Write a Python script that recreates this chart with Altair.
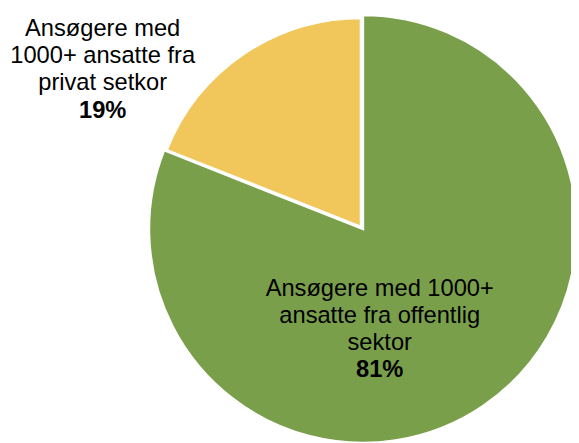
import altair as alt
import pandas as pd
import math

categories = ["Ansøgere med 1000+ ansatte fra offentlig sektor",
              "Ansøgere med 1000+ ansatte fra privat setkor"]
values = [81, 19]
colors = ["#7A9F4B", "#F1C75C"]

top_lines = ["Ansøgere med", "1000+ ansatte fra", "privat setkor"]
top_pct = "19%"
bottom_lines = ["Ansøgere med 1000+", "ansatte fra offentlig", "sektor"]
bottom_pct = "81%"

df = pd.DataFrame({"cat": categories, "value": values, "order": [0, 1]})

FONT = "Liberation Sans"
FS = 24
LH = 27.5

base = alt.Chart(df).transform_window(
    end="sum(value)", sort=[alt.SortField("order")]
).transform_calculate(start="datum.end - datum.value")

theta = alt.Theta("start:Q", scale=alt.Scale(domain=[0, 100], range=[0, 2 * math.pi]))
color = alt.Color("cat:N", scale=alt.Scale(domain=categories, range=colors), legend=None)

green = base.transform_filter("datum.order == 0").mark_arc(
    outerRadius=217, stroke="white", strokeWidth=2.5
).encode(theta=theta, theta2="end:Q", color=color, x=alt.value(360), y=alt.value(221))

yellow = base.transform_filter("datum.order == 1").mark_arc(
    outerRadius=212, stroke="white", strokeWidth=2.5
).encode(theta=theta, theta2="end:Q", color=color, x=alt.value(358), y=alt.value(219))

layers = [green, yellow]

def text_block(lines, pct, cx, y0):
    out = []
    for i, ln in enumerate(lines + [pct]):
        bold = i == len(lines)
        out.append(
            alt.Chart(df).transform_filter("datum.order == 0").mark_text(
                font=FONT, fontSize=FS, fontWeight="bold" if bold else "normal",
                color="black", align="center", baseline="alphabetic"
            ).encode(x=alt.value(cx), y=alt.value(y0 + i * LH), text=alt.value(ln))
        )
    return out

layers += text_block(top_lines, top_pct, 96, 25.5)
layers += text_block(bottom_lines, bottom_pct, 377, 288.5)

chart = alt.layer(*layers).properties(
    width=571, height=435, padding=0, autosize=alt.AutoSizeParams(type="none")
).configure_view(stroke=None)

chart.save("out.html", embed_options={"renderer": "svg", "actions": False})
